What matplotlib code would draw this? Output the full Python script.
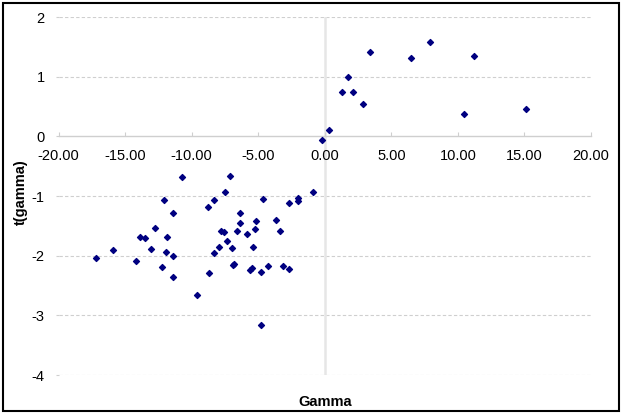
import matplotlib
matplotlib.use("Agg")
import matplotlib.pyplot as plt
from matplotlib.patches import Rectangle

plt.rcParams['font.family'] = ['Liberation Sans', 'DejaVu Sans']

# gamma vs t(gamma)
gamma = [-0.2, 0.3, 1.3, 1.75, 2.1, 2.85, 3.4, 6.45, 7.9, 10.45, 11.2, 15.1,
         -10.75, -12.06, -11.41, -8.74, -12.77, -13.85, -13.5, -11.86, -15.89,
         -13.04, -11.96, -11.38, -17.2, -14.15, -12.19, -11.38, -8.69, -9.57,
         -7.15, -7.46, -8.29, -4.64, -0.85, -2.66, -2.0, -2.02, -6.38, -6.33,
         -5.17, -3.68, -3.36, -7.83, -7.56, -6.6, -5.87, -5.25, -7.33, -7.91,
         -7.0, -5.42, -8.29, -6.88, -6.78, -5.62, -5.47, -4.24, -4.79, -3.13,
         -2.68, -4.79]
t_gamma = [-0.06, 0.1, 0.75, 1.0, 0.75, 0.54, 1.42, 1.31, 1.58, 0.37, 1.34, 0.45,
           -0.68, -1.07, -1.29, -1.18, -1.53, -1.69, -1.71, -1.68, -1.91,
           -1.89, -1.94, -2.0, -2.04, -2.09, -2.19, -2.35, -2.29, -2.66,
           -0.66, -0.93, -1.06, -1.05, -0.94, -1.11, -1.04, -1.09, -1.28, -1.46,
           -1.42, -1.40, -1.59, -1.58, -1.61, -1.58, -1.64, -1.56, -1.75, -1.85,
           -1.87, -1.86, -1.95, -2.16, -2.14, -2.24, -2.21, -2.18, -2.28, -2.18,
           -2.23, -3.17]

xticks = [-20, -15, -10, -5, 0, 5, 10, 15, 20]
yticks = [-4, -3, -2, -1, 0, 1, 2]

fig = plt.figure(figsize=(6.23, 4.15), dpi=100)
ax = fig.add_axes([58.5/623, 1-375/415, (591-58.5)/623, (375-17)/415])

ax.set_xlim(-20, 20)
ax.set_ylim(-4, 2)

for y in yticks:
    if y != 0:
        ax.axhline(y, color='#cfcfcf', lw=0.8, ls=(0, (3, 2)), zorder=1)
ax.axvline(0, color='#e6e6e6', lw=1.8, zorder=1)

ax.scatter(gamma, t_gamma, marker='D', s=9, color='#000080', zorder=3)

for s in ['top', 'right', 'left']:
    ax.spines[s].set_visible(False)
ax.spines['bottom'].set_position(('data', 0))
ax.spines['bottom'].set_color('#cfcfcf')
ax.spines['bottom'].set_linewidth(1)

ax.set_xticks(xticks)
ax.set_xticklabels(['%.2f' % v for v in xticks])
ax.set_yticks(yticks)
ax.set_yticklabels([str(v) for v in yticks])
ax.tick_params(axis='x', direction='in', length=3, color='#cfcfcf', labelsize=10.5, pad=9)
ax.tick_params(axis='y', length=2, color='#cfcfcf', labelsize=10.5, pad=8)

ax.set_xlabel('Gamma', fontweight='bold', fontsize=10.5)
ax.xaxis.set_label_coords(0.5, -0.055)
ax.set_ylabel('t(gamma)', fontweight='bold', fontsize=10.5)
ax.yaxis.set_label_coords(-0.057, 0.51)

fig.patches.append(Rectangle((3/623, 4/415), 616/623, 408/415, transform=fig.transFigure,
                             fill=False, edgecolor='black', lw=1.5))

fig.savefig('out.png', dpi=100)
